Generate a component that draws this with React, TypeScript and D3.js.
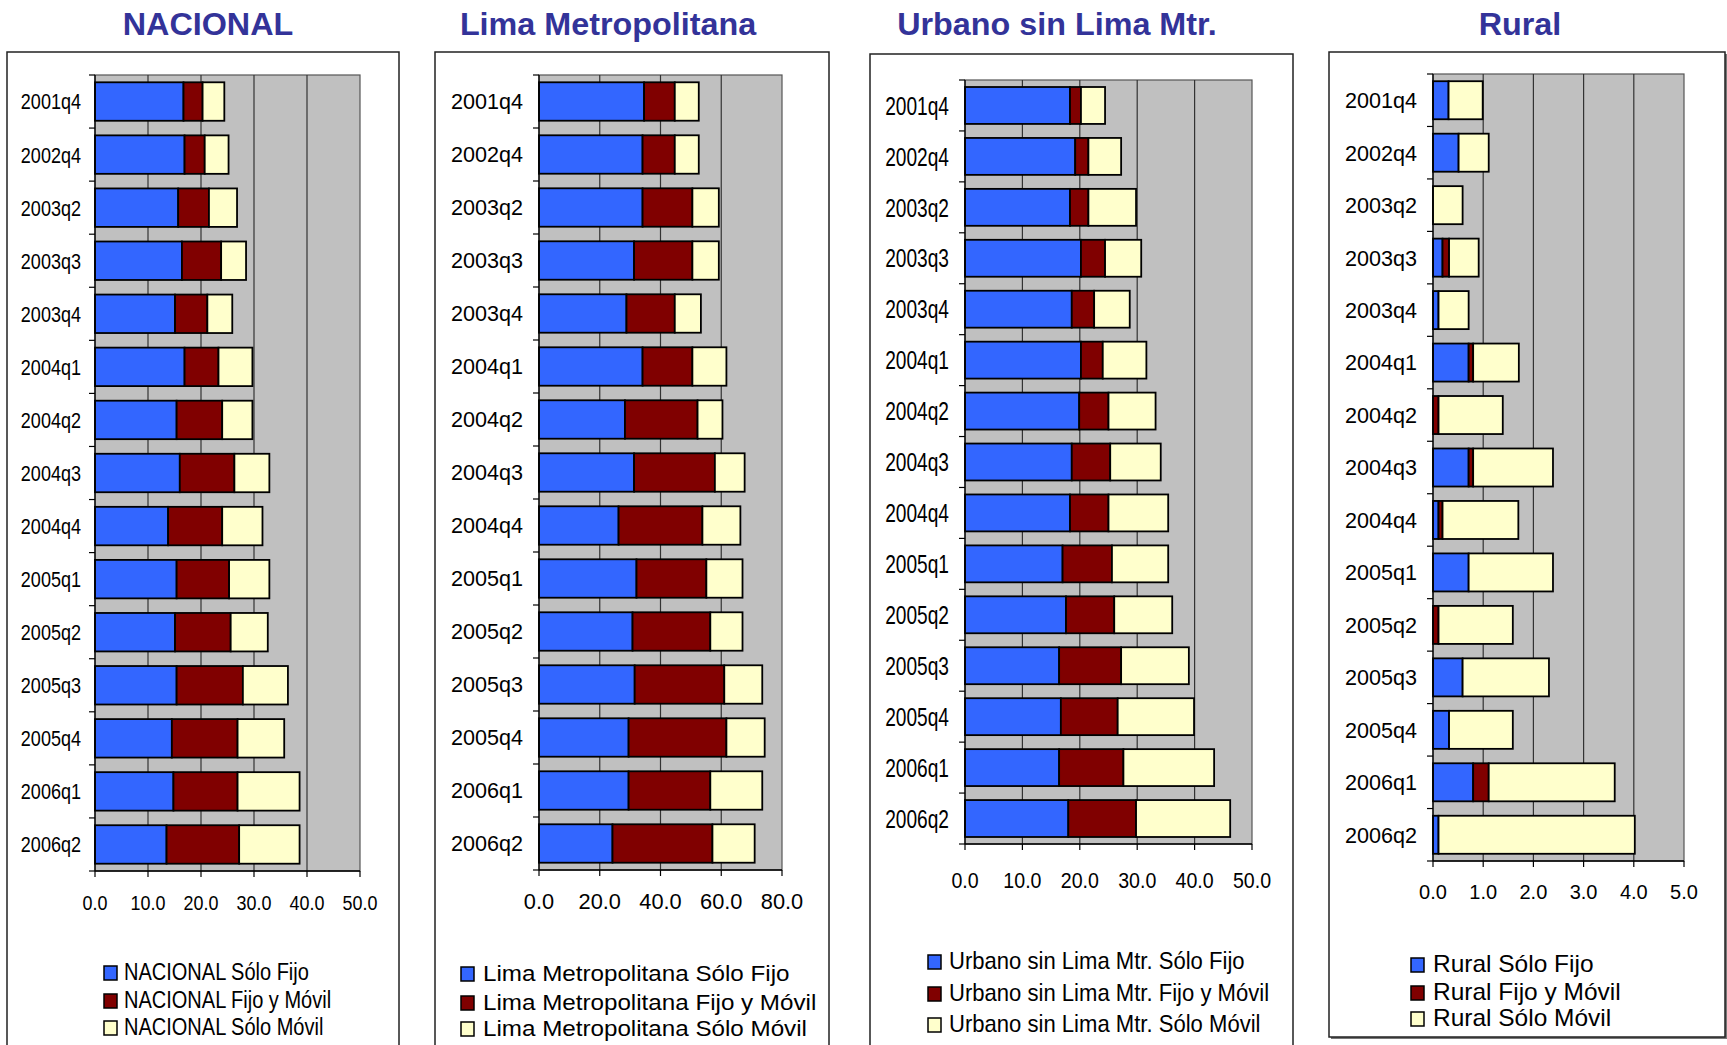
import React from "react";
import * as d3 from "d3";

const categories = ["2001q4","2002q4","2003q2","2003q3","2003q4","2004q1","2004q2","2004q3","2004q4","2005q1","2005q2","2005q3","2005q4","2006q1","2006q2"];

const seriesSuffixes = ["Sólo Fijo", "Fijo y Móvil", "Sólo Móvil"];
const seriesColors = ["#3366FF", "#800000", "#FFFFCC"];

const nacionalFijo = [16.7,16.9,15.7,16.4,15.1,16.9,15.4,16.0,13.8,15.4,15.1,15.4,14.5,14.8,13.5];
const nacionalFijoMovil = [3.6,3.8,5.8,7.4,6.1,6.4,8.6,10.3,10.2,9.9,10.5,12.5,12.4,12.1,13.7];
const nacionalMovil = [4.1,4.5,5.3,4.7,4.7,6.4,5.7,6.6,7.6,7.6,7.0,8.5,8.8,11.7,11.4];

const limaFijo = [34.6,34.1,34.1,31.3,28.8,34.1,28.3,31.3,26.2,32.1,30.8,31.5,29.5,29.5,24.2];
const limaFijoMovil = [10.1,10.6,16.4,19.2,15.9,16.4,23.9,26.6,27.6,23.0,25.6,29.5,32.2,26.9,32.9];
const limaMovil = [7.9,7.9,8.7,8.7,8.6,11.2,8.2,9.8,12.5,11.9,10.6,12.5,12.6,17.1,13.9];

const urbanoFijo = [18.3,19.2,18.3,20.2,18.6,20.2,19.9,18.6,18.3,17.0,17.6,16.4,16.7,16.4,18.0];
const urbanoFijoMovil = [1.9,2.3,3.2,4.2,3.9,3.8,5.1,6.7,6.7,8.6,8.4,10.8,9.9,11.2,11.8];
const urbanoMovil = [4.2,5.7,8.3,6.3,6.2,7.6,8.2,8.8,10.4,9.8,10.1,11.8,13.3,15.8,16.4];

const ruralFijo = [0.31,0.51,0,0.19,0.11,0.71,0,0.71,0.11,0.71,0,0.59,0.32,0.80,0.11];
const ruralFijoMovil = [0,0,0,0.13,0,0.09,0.11,0.09,0.08,0,0.11,0,0,0.31,0];
const ruralMovil = [0.68,0.60,0.59,0.59,0.60,0.91,1.28,1.59,1.51,1.68,1.48,1.72,1.27,2.51,3.91];

const titles = ["NACIONAL", "Lima Metropolitana", "Urbano sin Lima Mtr.", "Rural"];
const xMaxes = [50, 80, 50, 5];
const xTickSteps = [10, 20, 10, 1];

const panelData = [
  [nacionalFijo, nacionalFijoMovil, nacionalMovil],
  [limaFijo, limaFijoMovil, limaMovil],
  [urbanoFijo, urbanoFijoMovil, urbanoMovil],
  [ruralFijo, ruralFijoMovil, ruralMovil],
];

// layout (pixels)
const layouts = [
  { titleX: 208, box: [7, 52, 399, 1060], plot: [95, 75, 360, 871], cat: { fs: 22, sx: 0.82, right: 81 }, tick: { fs: 19.5, sx: 0.92, base: 910 }, leg: { sq: 104, tx: 124, fs: 23, sx: 0.87, base: [980, 1008, 1035] }, shadow: false },
  { titleX: 608, box: [435, 52, 829, 1060], plot: [539, 75, 782, 870], cat: { fs: 22, sx: 0.98, right: 523 }, tick: { fs: 21.8, sx: 1.0, base: 909 }, leg: { sq: 461, tx: 483, fs: 22, sx: 1.1, base: [981, 1010, 1036] }, shadow: false },
  { titleX: 1057, box: [870, 54, 1293, 1060], plot: [965, 80, 1252, 844], cat: { fs: 25.5, sx: 0.75, right: 949 }, tick: { fs: 22.8, sx: 0.86, base: 888 }, leg: { sq: 928, tx: 949, fs: 24, sx: 0.92, base: [969, 1001, 1032] }, shadow: false },
  { titleX: 1520, box: [1329, 52, 1725, 1037], plot: [1433, 74, 1684, 861], cat: { fs: 22, sx: 0.98, right: 1417 }, tick: { fs: 20, sx: 1.0, base: 899 }, leg: { sq: 1411, tx: 1433, fs: 24, sx: 1.02, base: [972, 1000, 1026] }, shadow: true },
];

const FONT = "'Liberation Sans', Arial, sans-serif";

function STxt({ x, y, sx, fs, anchor, children, fill = "#000", weight = "normal" }: any) {
  return (
    <text
      transform={`translate(${x},${y}) scale(${sx},1)`}
      fontSize={fs}
      fontFamily={FONT}
      fontWeight={weight}
      textAnchor={anchor}
      fill={fill}
    >
      {children}
    </text>
  );
}

function Panel({ idx }: { idx: number }) {
  const L = layouts[idx];
  const [px0, py0, px1, py1] = L.plot;
  const x = d3.scaleLinear().domain([0, xMaxes[idx]]).range([px0, px1]);
  const y = d3.scaleBand<string>().domain(categories).range([py0, py1]).paddingInner(0.275).paddingOuter(0.1375);
  const step = y.step();
  const ticks = d3.range(0, xMaxes[idx] + 1e-9, xTickSteps[idx]);
  const fmt = d3.format(".1f");
  const rows = categories.map((c, i) => ({ cat: c, s0: panelData[idx][0][i], s1: panelData[idx][1][i], s2: panelData[idx][2][i] }));
  const stacked = d3.stack<any>().keys(["s0", "s1", "s2"])(rows);
  const [bx0, by0, bx1, by1] = L.box;
  const name = titles[idx];
  const bandEdges = categories.map((c, i) => py0 + i * step).concat([py1]);

  return (
    <g>
      {L.shadow && <rect x={bx0 + 2} y={by0 + 2} width={bx1 - bx0} height={by1 - by0} fill="#777" />}
      <rect x={bx0} y={by0} width={bx1 - bx0} height={by1 - by0} fill="#fff" stroke="#222" strokeWidth={1.5} />
      <STxt x={L.titleX} y={35} sx={1.01} fs={32} anchor="middle" weight="bold" fill="#333399">{name}</STxt>
      {/* plot area */}
      <rect x={px0} y={py0} width={px1 - px0} height={py1 - py0} fill="#C0C0C0" stroke="#555" strokeWidth={1.2} />
      {ticks.slice(1, -1).map((t) => (
        <line key={t} x1={x(t)} x2={x(t)} y1={py0} y2={py1} stroke="#333" strokeWidth={1.2} />
      ))}
      {/* bars */}
      {stacked.map((layer, li) =>
        layer.map((d: any, i: number) => {
          const w = x(d[1]) - x(d[0]);
          if (w <= 0.01) return null;
          return (
            <rect
              key={`${li}-${i}`}
              x={x(d[0])}
              y={y(categories[i])}
              width={w}
              height={y.bandwidth()}
              fill={seriesColors[li]}
              stroke="#000"
              strokeWidth={1.8}
            />
          );
        })
      )}
      {/* axes */}
      <line x1={px0} x2={px0} y1={py0} y2={py1} stroke="#000" strokeWidth={1.3} />
      <line x1={px0} x2={px1} y1={py1} y2={py1} stroke="#000" strokeWidth={1.3} />
      {bandEdges.map((yy, i) => (
        <line key={i} x1={px0 - 6} x2={px0} y1={yy} y2={yy} stroke="#000" strokeWidth={1.2} />
      ))}
      {ticks.map((t) => (
        <line key={t} x1={x(t)} x2={x(t)} y1={py1} y2={py1 + 6} stroke="#000" strokeWidth={1.2} />
      ))}
      {categories.map((c) => (
        <STxt key={c} x={L.cat.right} y={(y(c) as number) + y.bandwidth() / 2 + 0.36 * L.cat.fs} sx={L.cat.sx} fs={L.cat.fs} anchor="end">{c}</STxt>
      ))}
      {ticks.map((t) => (
        <STxt key={t} x={x(t)} y={L.tick.base} sx={L.tick.sx} fs={L.tick.fs} anchor="middle">{fmt(t)}</STxt>
      ))}
      {/* legend */}
      {seriesSuffixes.map((s, i) => (
        <g key={s}>
          <rect x={L.leg.sq} y={L.leg.base[i] - 14} width={13} height={14} fill={seriesColors[i]} stroke="#000" strokeWidth={1.5} />
          <STxt x={L.leg.tx} y={L.leg.base[i]} sx={L.leg.sx} fs={L.leg.fs} anchor="start">{`${name} ${s}`}</STxt>
        </g>
      ))}
    </g>
  );
}

export default function App() {
  return (
    <svg width={1727} height={1045} style={{ position: "absolute", left: 0, top: 0, background: "#fff" }}>
      <rect x={0} y={0} width={1727} height={1045} fill="#fff" />
      {titles.map((t, i) => (
        <Panel key={t} idx={i} />
      ))}
    </svg>
  );
}
